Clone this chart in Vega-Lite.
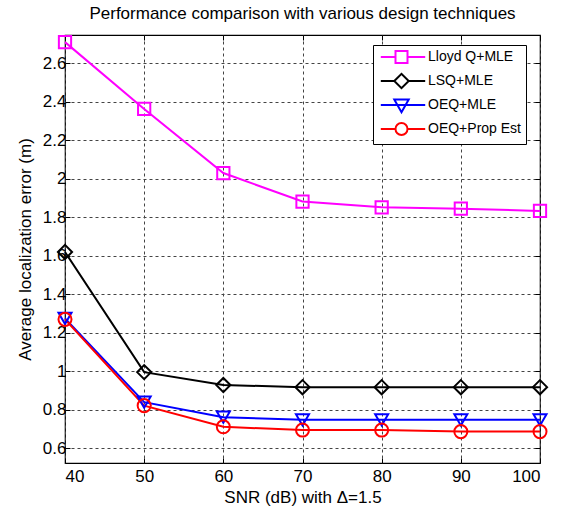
{
  "$schema": "https://vega.github.io/schema/vega-lite/v6.json",
  "width": 475,
  "height": 428,
  "autosize": {"type": "none"},
  "padding": {"left": 65, "top": 35, "right": 23, "bottom": 56},
  "background": "white",
  "title": {"text": "Performance comparison with various design techniques", "font": "Liberation Sans", "fontSize": 17, "fontWeight": "normal", "color": "black", "offset": 9, "anchor": "middle"},
  "config": {
    "view": {"stroke": "black", "strokeWidth": 1.2},
    "axis": {
      "labelFont": "Liberation Sans", "labelFontSize": 17, "labelColor": "black",
      "titleFont": "Liberation Sans", "titleFontSize": 17, "titleFontWeight": "normal", "titleColor": "black",
      "domain": false, "tickColor": "black", "tickSize": -5,
      "gridColor": "#444", "gridDash": [3, 3], "gridOpacity": 1, "gridWidth": 1
    }
  },
  "resolve": {"axis": {"x": "independent", "y": "independent"}},
  "data": {"values": [
    {"snr": 40, "method": "Lloyd Q+MLE", "error": 2.71},
    {"snr": 50, "method": "Lloyd Q+MLE", "error": 2.363},
    {"snr": 60, "method": "Lloyd Q+MLE", "error": 2.03},
    {"snr": 70, "method": "Lloyd Q+MLE", "error": 1.882},
    {"snr": 80, "method": "Lloyd Q+MLE", "error": 1.852},
    {"snr": 90, "method": "Lloyd Q+MLE", "error": 1.845},
    {"snr": 100, "method": "Lloyd Q+MLE", "error": 1.833},
    {"snr": 40, "method": "LSQ+MLE", "error": 1.62},
    {"snr": 50, "method": "LSQ+MLE", "error": 0.996},
    {"snr": 60, "method": "LSQ+MLE", "error": 0.929},
    {"snr": 70, "method": "LSQ+MLE", "error": 0.918},
    {"snr": 80, "method": "LSQ+MLE", "error": 0.918},
    {"snr": 90, "method": "LSQ+MLE", "error": 0.918},
    {"snr": 100, "method": "LSQ+MLE", "error": 0.918},
    {"snr": 40, "method": "OEQ+MLE", "error": 1.275},
    {"snr": 50, "method": "OEQ+MLE", "error": 0.84},
    {"snr": 60, "method": "OEQ+MLE", "error": 0.762},
    {"snr": 70, "method": "OEQ+MLE", "error": 0.748},
    {"snr": 80, "method": "OEQ+MLE", "error": 0.748},
    {"snr": 90, "method": "OEQ+MLE", "error": 0.748},
    {"snr": 100, "method": "OEQ+MLE", "error": 0.748},
    {"snr": 40, "method": "OEQ+Prop Est", "error": 1.27},
    {"snr": 50, "method": "OEQ+Prop Est", "error": 0.822},
    {"snr": 60, "method": "OEQ+Prop Est", "error": 0.712},
    {"snr": 70, "method": "OEQ+Prop Est", "error": 0.695},
    {"snr": 80, "method": "OEQ+Prop Est", "error": 0.695},
    {"snr": 90, "method": "OEQ+Prop Est", "error": 0.687},
    {"snr": 100, "method": "OEQ+Prop Est", "error": 0.687}
  ]},
  "encoding": {
    "x": {"field": "snr", "type": "quantitative", "scale": {"domain": [40, 100], "nice": false, "zero": false}, "axis": null},
    "y": {"field": "error", "type": "quantitative", "scale": {"domain": [0.524, 2.747], "nice": false, "zero": false}, "axis": null},
    "color": {"field": "method", "type": "nominal",
      "scale": {"domain": ["Lloyd Q+MLE", "LSQ+MLE", "OEQ+MLE", "OEQ+Prop Est"], "range": ["#ff00ff", "#000000", "#0000ff", "#ff0000"]},
      "legend": {
        "title": null, "orient": "none", "legendX": 308, "legendY": 10,
        "fillColor": "white", "strokeColor": "black", "padding": 5,
        "labelFont": "Liberation Sans", "labelFontSize": 14, "labelColor": "black",
        "symbolSize": 144, "symbolStrokeWidth": 2, "symbolFillColor": "white", "symbolOpacity": 1,
        "labelOffset": 36, "rowPadding": 2,
        "encode": {"symbols": {"update": {"shape": {"signal": "datum.value === 'Lloyd Q+MLE' ? 'M-0.7,0H1.75M3.75,0H6.7M1.75,-1H3.75V1H1.75Z' : datum.value === 'LSQ+MLE' ? 'M-0.7,0H1.55M3.95,0H6.7M1.55,0L2.75,-1.2L3.95,0L2.75,1.2Z' : datum.value === 'OEQ+MLE' ? 'M-0.7,0H6.7M1.55,-0.9H3.95L2.75,1.2Z' : 'M-0.7,0H1.75M3.75,0H6.7M1.75,0A1,1 0 1,0 3.75,0A1,1 0 1,0 1.75,0Z'"}}}}
      }
    }
  },
  "layer": [
    {"mark": {"type": "line", "strokeWidth": 2},
     "encoding": {
       "x": {"field": "snr", "type": "quantitative",
         "axis": {"values": [40, 50, 60, 70, 80, 90, 100], "grid": true, "title": "SNR (dB) with Δ=1.5", "labelPadding": 10, "titlePadding": 5}},
       "y": {"field": "error", "type": "quantitative",
         "axis": {"values": [0.6, 0.8, 1, 1.2, 1.4, 1.6, 1.8, 2, 2.2, 2.4, 2.6], "grid": true, "format": "~g", "title": "Average localization error (m)", "labelPadding": 4, "titlePadding": 8}}
     }},
    {"transform": [{"filter": "datum.method === 'Lloyd Q+MLE'"}],
     "mark": {"type": "point", "shape": "square", "filled": false, "strokeWidth": 2, "size": 150, "opacity": 1},
     "encoding": {
       "x": {"field": "snr", "type": "quantitative",
         "axis": {"orient": "top", "values": [40, 50, 60, 70, 80, 90, 100], "grid": false, "labels": false, "title": null}},
       "y": {"field": "error", "type": "quantitative",
         "axis": {"orient": "right", "values": [0.6, 0.8, 1, 1.2, 1.4, 1.6, 1.8, 2, 2.2, 2.4, 2.6], "grid": false, "labels": false, "title": null}}
     }},
    {"transform": [{"filter": "datum.method === 'LSQ+MLE'"}],
     "mark": {"type": "point", "shape": "diamond", "filled": false, "strokeWidth": 2, "size": 200, "opacity": 1}},
    {"transform": [{"filter": "datum.method === 'OEQ+MLE'"}],
     "mark": {"type": "point", "shape": "triangle-down", "filled": false, "strokeWidth": 2, "size": 170, "opacity": 1}},
    {"transform": [{"filter": "datum.method === 'OEQ+Prop Est'"}],
     "mark": {"type": "point", "shape": "circle", "filled": false, "strokeWidth": 2, "size": 170, "opacity": 1}}
  ]
}
